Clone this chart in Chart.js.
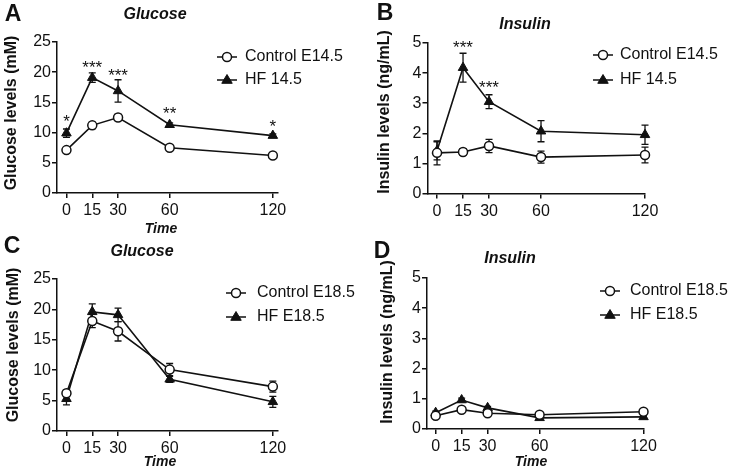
<!DOCTYPE html>
<html>
<head>
<meta charset="utf-8">
<script src="https://cdn.jsdelivr.net/npm/chart.js@4.4.1/dist/chart.umd.min.js"></script>
<style>
html,body{margin:0;padding:0;background:#fff;}
#wrap{position:relative;width:734px;height:473px;overflow:hidden;}
#wrap canvas{position:absolute;left:0;top:0;pointer-events:none;}
</style>
</head>
<body>
<div id="wrap">
<canvas id="cA" width="734" height="473"></canvas>
<canvas id="cB" width="734" height="473"></canvas>
<canvas id="cC" width="734" height="473"></canvas>
<canvas id="cD" width="734" height="473"></canvas>
</div>
<script>
// ---------- data ----------
const timePoints = [0, 15, 30, 60, 120];
const xTickValues = [0, 15, 30, 60, 120];
const glucoseTicks = [0, 5, 10, 15, 20, 25];
const insulinTicks = [0, 1, 2, 3, 4, 5];

// Panel A: Glucose E14.5
const ctrlA = [7.1, 11.2, 12.5, 7.5, 6.2];
const ctrlAErr = [0.3, 0.55, 0.5, 0.25, 0.3];
const hfA = [9.9, 19.1, 16.9, 11.3, 9.5];
const hfAErr = [0.7, 0.8, 1.85, 0.3, 0.3];
const starsA = ['*', '***', '***', '**', '*'];
const starsAY = [12.6, 21.6, 20.2, 13.9, 11.8];

// Panel B: Insulin E14.5
const ctrlB = [1.35, 1.38, 1.58, 1.21, 1.28];
const ctrlBErr = [0.4, 0.1, 0.22, 0.2, 0.26];
const hfB = [1.42, 4.18, 3.05, 2.07, 1.95];
const hfBErr = [0.3, 0.48, 0.23, 0.35, 0.32];
const starsB = ['', '***', '***', '', ''];
const starsBY = [0, 4.99, 3.68, 0, 0];

// Panel C: Glucose E18.5
const ctrlC = [6.2, 18.1, 16.4, 10.1, 7.3];
const ctrlCErr = [0.5, 1.1, 1.6, 1.0, 0.9];
const hfC = [5.3, 19.6, 19.1, 8.5, 4.8];
const hfCErr = [1.0, 1.3, 1.1, 0.5, 0.9];

// Panel D: Insulin E18.5
const ctrlD = [0.44, 0.64, 0.52, 0.47, 0.57];
const ctrlDErr = [0.05, 0.05, 0.05, 0.04, 0.05];
const hfD = [0.54, 0.96, 0.70, 0.37, 0.40];
const hfDErr = [0.05, 0.06, 0.05, 0.04, 0.04];

// ---------- styling ----------
const FONT = "'Liberation Sans', Arial, Helvetica, sans-serif";
const INK = '#111';

function pts(vals){ return timePoints.map((t,i)=>({x:t, y:vals[i]})); }

function ctrlDataset(label, vals, err){
  return {label, data: pts(vals), errorBars: err, borderColor: INK, borderWidth: 1.6,
    pointStyle:'circle', pointRadius:4.5, pointBackgroundColor:'#fff', pointBorderColor:INK,
    pointBorderWidth:1.5, showLine:true, tension:0, clip:false};
}
function hfDataset(label, vals, err){
  return {label, data: pts(vals), errorBars: err, borderColor: INK, borderWidth: 1.6,
    pointStyle:'triangle', pointRadius:5.5, pointBackgroundColor:INK, pointBorderColor:INK,
    pointBorderWidth:1, showLine:true, tension:0, clip:false};
}

const errorBarPlugin = {
  id:'errorBars',
  beforeDatasetsDraw(chart){
    const ctx = chart.ctx, xs = chart.scales.x, ys = chart.scales.y;
    ctx.save();
    ctx.strokeStyle = INK; ctx.lineWidth = 1.3;
    chart.data.datasets.forEach(ds=>{
      if(!ds.errorBars) return;
      ds.data.forEach((p,i)=>{
        const e = ds.errorBars[i]; if(!e) return;
        const px = xs.getPixelForValue(p.x);
        const y1 = ys.getPixelForValue(p.y + e), y2 = ys.getPixelForValue(p.y - e);
        ctx.beginPath();
        ctx.moveTo(px, y1); ctx.lineTo(px, y2);
        ctx.moveTo(px-3.5, y1); ctx.lineTo(px+3.5, y1);
        ctx.moveTo(px-3.5, y2); ctx.lineTo(px+3.5, y2);
        ctx.stroke();
      });
    });
    ctx.restore();
  }
};

const textPlugin = {
  id:'panelText',
  afterDraw(chart){
    const o = chart.options.plugins.panelText; if(!o) return;
    const ctx = chart.ctx, xs = chart.scales.x, ys = chart.scales.y;
    ctx.save();
    ctx.fillStyle = INK;
    // letter
    ctx.font = 'bold 23px ' + FONT; ctx.textAlign='center'; ctx.textBaseline='middle';
    ctx.fillText(o.letter, o.letterPos[0], o.letterPos[1]);
    // title
    ctx.font = 'italic bold 16px ' + FONT;
    ctx.fillText(o.title, o.titlePos[0], o.titlePos[1]);
    // x title
    if(o.xTitle){ ctx.font = 'italic bold 14px ' + FONT; ctx.fillText(o.xTitle, o.xTitlePos[0], o.xTitlePos[1]); }
    // y title
    ctx.save();
    ctx.translate(o.yTitlePos[0], o.yTitlePos[1]); ctx.rotate(-Math.PI/2);
    ctx.font = 'bold 16px ' + FONT; ctx.fillText(o.yTitle, 0, 0);
    ctx.restore();
    // stars
    if(o.stars){
      ctx.font = '17px ' + FONT; ctx.textBaseline='alphabetic';
      o.stars.forEach((s,i)=>{ if(!s) return;
        ctx.fillText(s, xs.getPixelForValue(timePoints[i]), ys.getPixelForValue(o.starsY[i]) + 10);
      });
    }
    // legend
    const [lx, ly, gap, tx] = o.legendPos;
    chart.data.datasets.forEach((ds,i)=>{
      const y = ly + i*gap;
      ctx.strokeStyle = INK; ctx.lineWidth = 1.5;
      ctx.beginPath(); ctx.moveTo(lx-10, y); ctx.lineTo(lx+10, y); ctx.stroke();
      ctx.fillStyle = ds.pointBackgroundColor; ctx.strokeStyle = INK; ctx.lineWidth = ds.pointBorderWidth;
      ctx.beginPath();
      if(ds.pointStyle === 'circle'){ ctx.arc(lx, y, ds.pointRadius, 0, Math.PI*2); }
      else { const r = ds.pointRadius;
        ctx.moveTo(lx, y - r); ctx.lineTo(lx - r*0.95, y + r*0.6); ctx.lineTo(lx + r*0.95, y + r*0.6); ctx.closePath(); }
      ctx.fill(); ctx.stroke();
      ctx.fillStyle = INK; ctx.font = '16px ' + FONT; ctx.textAlign='left'; ctx.textBaseline='middle';
      ctx.fillText(ds.label, tx, y);
      ctx.textAlign='center';
    });
    ctx.restore();
  }
};

function makePanel(id, geo, datasets, yMax, yTicks, text){
  const W = 40, H = 30;
  const scaleCommon = {
    grid:{display:true, drawOnChartArea:false, drawTicks:true, tickLength:5, color:INK, lineWidth:1.5},
    border:{display:true, color:INK, width:1.5}
  };
  return new Chart(document.getElementById(id), {
    type:'scatter',
    data:{datasets},
    options:{
      responsive:false, animation:false, events:[],
      layout:{padding:{left:geo.L - W, right:734 - geo.R, top:geo.T, bottom:473 - geo.B - H}},
      plugins:{legend:{display:false}, tooltip:{enabled:false}, title:{display:false}, panelText:text},
      scales:{
        x:{type:'linear', min:geo.xMin, max:geo.xMax, ...scaleCommon,
          afterBuildTicks:(s)=>{ s.ticks = xTickValues.map(v=>({value:v})); },
          afterFit:(s)=>{ s.height = H; },
          ticks:{color:INK, font:{family:FONT, size:16}, padding:3, maxRotation:0, autoSkip:false}},
        y:{type:'linear', min:0, max:yMax, ...scaleCommon,
          afterBuildTicks:(s)=>{ s.ticks = yTicks.map(v=>({value:v})); },
          afterFit:(s)=>{ s.width = W; },
          ticks:{color:INK, font:{family:FONT, size:16}, padding:1}}
      }
    },
    plugins:[errorBarPlugin, textPlugin]
  });
}

makePanel('cA', {L:57, R:278, T:42, B:193, xMin:-5.5, xMax:123},
  [ctrlDataset('Control E14.5', ctrlA, ctrlAErr), hfDataset('HF 14.5', hfA, hfAErr)], 25, glucoseTicks,
  {letter:'A', letterPos:[13,15], title:'Glucose', titlePos:[155,15], xTitle:'Time', xTitlePos:[161,229],
   yTitle:'Glucose levels (mM)', yTitlePos:[12,113], stars:starsA, starsY:starsAY, legendPos:[227,57,23,245]});

makePanel('cB', {L:427.5, R:645, T:43, B:193.5, xMin:-5.5, xMax:120},
  [ctrlDataset('Control E14.5', ctrlB, ctrlBErr), hfDataset('HF 14.5', hfB, hfBErr)], 5, insulinTicks,
  {letter:'B', letterPos:[385,14], title:'Insulin', titlePos:[525,25], xTitle:null,
   yTitle:'Insulin levels (ng/mL)', yTitlePos:[385,112], stars:starsB, starsY:starsBY, legendPos:[603,55,25,620]});

makePanel('cC', {L:57, R:278, T:279, B:431, xMin:-5.5, xMax:123},
  [ctrlDataset('Control E18.5', ctrlC, ctrlCErr), hfDataset('HF E18.5', hfC, hfCErr)], 25, glucoseTicks,
  {letter:'C', letterPos:[12,247], title:'Glucose', titlePos:[142,252], xTitle:'Time', xTitlePos:[160,462],
   yTitle:'Glucose levels (mM)', yTitlePos:[14,345], stars:null, legendPos:[236,293,24,257]});

makePanel('cD', {L:427, R:643.5, T:278, B:429, xMin:-5, xMax:120},
  [ctrlDataset('Control E18.5', ctrlD, ctrlDErr), hfDataset('HF E18.5', hfD, hfDErr)], 5, insulinTicks,
  {letter:'D', letterPos:[382,252], title:'Insulin', titlePos:[510,259], xTitle:'Time', xTitlePos:[531,462],
   yTitle:'Insulin levels (ng/mL)', yTitlePos:[388,342], stars:null, legendPos:[610,291,24,630]});
</script>
</body>
</html>
